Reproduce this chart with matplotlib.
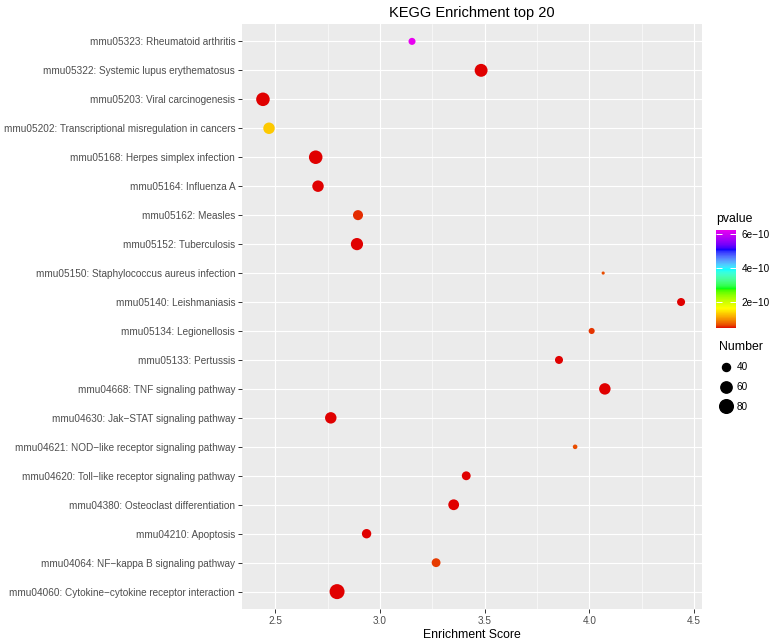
import numpy as np
import matplotlib
matplotlib.use("Agg")
import matplotlib.pyplot as plt
from matplotlib.colors import ListedColormap, Normalize
from matplotlib.lines import Line2D
from matplotlib.ticker import FixedLocator

# ---------------- data (bottom to top) ----------------
terms = [
    "mmu04060: Cytokine\u2212cytokine receptor interaction",
    "mmu04064: NF\u2212kappa B signaling pathway",
    "mmu04210: Apoptosis",
    "mmu04380: Osteoclast differentiation",
    "mmu04620: Toll\u2212like receptor signaling pathway",
    "mmu04621: NOD\u2212like receptor signaling pathway",
    "mmu04630: Jak\u2212STAT signaling pathway",
    "mmu04668: TNF signaling pathway",
    "mmu05133: Pertussis",
    "mmu05134: Legionellosis",
    "mmu05140: Leishmaniasis",
    "mmu05150: Staphylococcus aureus infection",
    "mmu05152: Tuberculosis",
    "mmu05162: Measles",
    "mmu05164: Influenza A",
    "mmu05168: Herpes simplex infection",
    "mmu05202: Transcriptional misregulation in cancers",
    "mmu05203: Viral carcinogenesis",
    "mmu05322: Systemic lupus erythematosus",
    "mmu05323: Rheumatoid arthritis",
]
enrichment = [2.795, 3.268, 2.936, 3.352, 3.412, 3.932, 2.765, 4.074, 3.855, 4.011,
              4.438, 4.066, 2.890, 2.895, 2.704, 2.693, 2.470, 2.441, 3.483, 3.153]
number = [94, 44, 47, 56, 44, 30, 61, 61, 40, 33,
          40, 29, 67, 51, 61, 79, 61, 79, 73, 36]
pvalue = [5.0e-11, 6.3e-11, 5.05e-11, 5.02e-11, 5.05e-11, 7.0e-11, 5.02e-11, 5.05e-11, 5.1e-11, 6.0e-11,
          5.1e-11, 6.8e-11, 5.02e-11, 5.8e-11, 5.05e-11, 5.0e-11, 1.35e-10, 5.05e-11, 5.02e-11, 6.23e-10]
size_breaks = [40, 60, 80]
pv_ticks = [2e-10, 4e-10, 6e-10]
pv_ticklabels = ["2e\u221210", "4e\u221210", "6e\u221210"]
rainbow_anchors = ["#E00000", "#FFFF00", "#00FF00", "#00FFFF", "#0000FF", "#E800F0"]

# ---------------- colour ramp in CIELAB (like ggplot gradientn) ----------------
M = np.array([[0.4124, 0.3576, 0.1805], [0.2126, 0.7152, 0.0722], [0.0193, 0.1192, 0.9505]])
Minv = np.linalg.inv(M)
WHITE = M @ np.ones(3)
D = 6 / 29

def hex2rgb(h):
    h = h.lstrip("#")
    return np.array([int(h[i:i + 2], 16) / 255 for i in (0, 2, 4)])

def to_lab(rgb):
    lin = np.where(rgb <= 0.04045, rgb / 12.92, ((rgb + 0.055) / 1.055) ** 2.4)
    xyz = (M @ lin) / WHITE
    f = np.where(xyz > D ** 3, np.cbrt(xyz), xyz / (3 * D * D) + 4 / 29)
    return np.array([116 * f[1] - 16, 500 * (f[0] - f[1]), 200 * (f[1] - f[2])])

def from_lab(lab):
    fy = (lab[0] + 16) / 116
    fx = fy + lab[1] / 500
    fz = fy - lab[2] / 200
    f = np.array([fx, fy, fz])
    xyz = np.where(f > D, f ** 3, 3 * D * D * (f - 4 / 29)) * WHITE
    lin = np.clip(Minv @ xyz, 0, 1)
    rgb = np.where(lin <= 0.0031308, 12.92 * lin, 1.055 * lin ** (1 / 2.4) - 0.055)
    return np.clip(rgb, 0, 1)

labs = [to_lab(hex2rgb(c)) for c in rainbow_anchors]
pos = np.linspace(0, 1, len(labs))
cols = []
for t in np.linspace(0, 1, 256):
    i = min(int(t * (len(labs) - 1)), len(labs) - 2)
    u = (t - pos[i]) / (pos[i + 1] - pos[i])
    cols.append(from_lab(labs[i] * (1 - u) + labs[i + 1] * u))
cmap = ListedColormap(cols)
norm = Normalize(vmin=min(pvalue), vmax=max(pvalue))

# ---------------- size scale (ggplot area palette) ----------------
nmin, nmax = min(number), max(number)
DPX = 2.37  # px per ggplot size unit

def diam_pt(n):
    t = (np.asarray(n, float) - nmin) / (nmax - nmin)
    return DPX * (1.33 + 5 * np.sqrt(np.clip(t, 0, None))) * 0.72

# ---------------- figure ----------------
plt.rcParams["font.family"] = ["Liberation Sans", "DejaVu Sans"]
W, H = 773, 644
fig = plt.figure(figsize=(W / 100, H / 100), dpi=100)
ax = fig.add_axes([242 / W, 1 - 609 / H, 460 / W, 585 / H])
ax.set_facecolor("#EBEBEB")
for s in ax.spines.values():
    s.set_visible(False)

ax.scatter(enrichment, terms, s=diam_pt(number) ** 2, c=pvalue, cmap=cmap, norm=norm,
           linewidths=0, zorder=3)

ax.set_ylim(-0.6, len(terms) - 0.4)
ax.set_xlim(2.341, 4.538)
ax.xaxis.set_major_locator(FixedLocator([2.5, 3.0, 3.5, 4.0, 4.5]))
ax.xaxis.set_minor_locator(FixedLocator([2.75, 3.25, 3.75, 4.25]))
ax.set_xticklabels(["2.5", "3.0", "3.5", "4.0", "4.5"])
ax.set_axisbelow(True)
ax.grid(which="major", color="white", linewidth=0.8)
ax.grid(which="minor", axis="x", color="white", linewidth=0.4)
ax.tick_params(which="major", length=2.9, width=0.7, color="#333333",
               labelsize=7.2, labelcolor="#4D4D4D", pad=2)
ax.tick_params(which="minor", length=0)
ax.set_xlabel("Enrichment Score", fontsize=8.8, color="black", labelpad=2)
ax.set_title("KEGG Enrichment top 20", fontsize=10.5, color="black", pad=5)

# colourbar
cax = fig.add_axes([716 / W, 1 - 328 / H, 20 / W, 98 / H])
sm = plt.cm.ScalarMappable(norm=norm, cmap=cmap)
cb = fig.colorbar(sm, cax=cax)
cb.outline.set_visible(False)
cb.set_ticks(pv_ticks)
cb.set_ticklabels(pv_ticklabels)
cax.tick_params(which="major", direction="in", length=4, width=0.7, color="white",
                left=True, right=True, labelsize=7.2, labelcolor="black", pad=4)
cax.minorticks_off()
fig.text(716 / W, 1 - 219 / H, "pvalue", fontsize=8.8, ha="left", va="center")

# size legend
handles = [Line2D([], [], marker="o", linestyle="", color="black",
                  markersize=float(diam_pt(b))) for b in size_breaks]
leg = fig.legend(handles, [str(b) for b in size_breaks], title="Number",
                 loc="upper left", bbox_to_anchor=(712 / W, 1 - 334 / H),
                 frameon=False, fontsize=7.2, title_fontsize=8.8,
                 handlelength=1.4, handletextpad=0.35, labelspacing=0.95,
                 borderpad=0.2)
leg._legend_box.align = "left"

fig.savefig("out.png", dpi=100)
